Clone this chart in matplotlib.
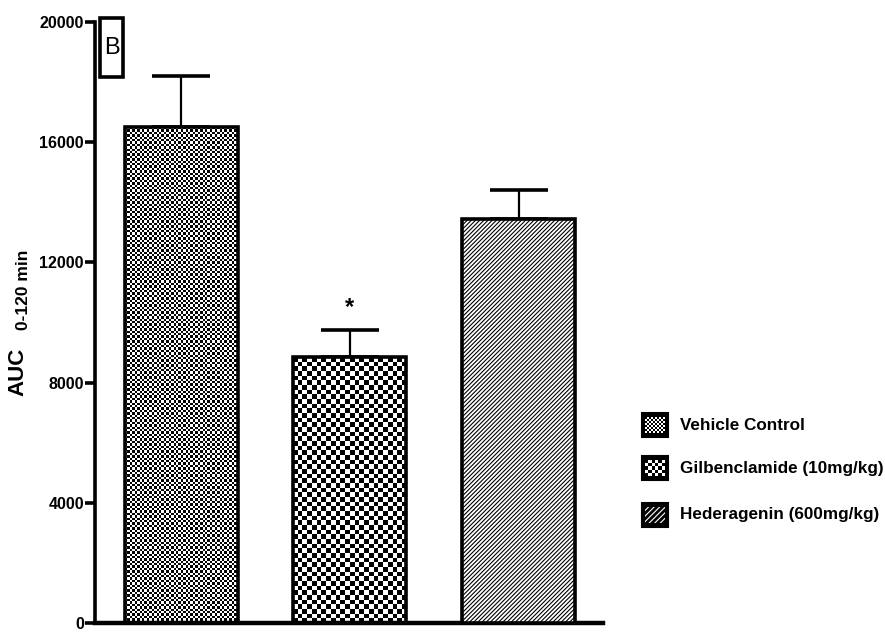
import numpy as np
import matplotlib.pyplot as plt
from matplotlib.patches import Rectangle

groups = ['Vehicle Control', 'Gilbenclamide (10mg/kg)', 'Hederagenin (600mg/kg)']
auc_mean = [16500, 8850, 13450]
auc_sem = [1700, 900, 950]
y_ticks = [0, 4000, 8000, 12000, 16000, 20000]
signif = ['', '*', '']

sans = ['Liberation Sans', 'DejaVu Sans']
plt.rcParams['hatch.linewidth'] = 0.8

W, H = 885, 634
fig = plt.figure(figsize=(W / 100, H / 100), dpi=100)
ax = fig.add_axes([95 / W, 11 / H, 508 / W, 601 / H])

xlim = (-0.51, 2.5)
ylim = (0, 20000)
px_x = 508 / (xlim[1] - xlim[0])
px_y = 601 / (ylim[1] - ylim[0])

x = np.arange(len(groups))
bar_w = 0.67


def checker(cell_px, w_px, h_px):
    nx = max(int(round(w_px / cell_px)), 1)
    ny = max(int(round(h_px / cell_px)), 1)
    return np.add.outer(np.arange(ny), np.arange(nx)) % 2


# upper error bars sit behind the bars
ax.errorbar(x, auc_mean, yerr=[[0] * len(x), auc_sem], fmt='none', ecolor='black',
            elinewidth=1.6, capsize=21, capthick=2.6, zorder=1)

fills = [('checker', 2.4), ('checker', 4.7), ('hatch', '////////')]
for i, (m, (kind, opt)) in enumerate(zip(auc_mean, fills)):
    x0 = x[i] - bar_w / 2
    if kind == 'hatch':
        bar = ax.bar(x[i], m, width=bar_w, facecolor='white', edgecolor='black',
                     linewidth=2.6, hatch=opt, zorder=3)[0]
    else:
        bar = ax.bar(x[i], m, width=bar_w, facecolor='none', edgecolor='black',
                     linewidth=2.6, zorder=3)[0]
        pat = checker(opt, bar_w * px_x, m * px_y)
        ax.imshow(pat, cmap='gray', vmin=0, vmax=1, extent=(x0, x0 + bar_w, 0, m),
                  aspect='auto', interpolation='nearest', clip_path=bar, zorder=2)
    if signif[i]:
        ax.text(x[i], m + auc_sem[i] + 350, signif[i], ha='center', va='bottom',
                fontsize=17, fontweight='bold', family=sans)

ax.set_xlim(*xlim)
ax.set_ylim(*ylim)
ax.set_xticks([])
ax.set_yticks(y_ticks)
ax.set_yticklabels([str(t) for t in y_ticks], family=sans, fontweight='bold', fontsize=11.5)
ax.tick_params(axis='y', length=7, width=2.6, pad=1)
for s in ['top', 'right']:
    ax.spines[s].set_visible(False)
ax.spines['left'].set_linewidth(2.6)
ax.spines['bottom'].set_linewidth(3.2)

# overlay in pixel coordinates for label, panel letter and legend
lay = fig.add_axes([0, 0, 1, 1], facecolor='none')
lay.set_xlim(0, W)
lay.set_ylim(H, 0)
lay.axis('off')

lay.text(18, 372, 'AUC', rotation=90, ha='center', va='center', fontsize=16,
         fontweight='bold', family=sans)
lay.text(24, 290, '0-120 min', rotation=90, ha='center', va='center', fontsize=12.5,
         fontweight='bold', family=sans)

lay.add_patch(Rectangle((100, 18), 23, 59, facecolor='white', edgecolor='black', linewidth=2.6))
lay.text(111.5, 48, 'B', ha='center', va='center', fontsize=17, family=sans)

leg_y = [425, 468, 515]
leg_fill = [('checker', 2.0), ('checker', 3.3), ('hatch', '//////')]
for yc, label, (kind, opt) in zip(leg_y, groups, leg_fill):
    lay.add_patch(Rectangle((642, yc - 12), 26, 24, facecolor='black', edgecolor='black',
                            linewidth=1.5, zorder=1))
    if kind == 'hatch':
        lay.add_patch(Rectangle((645, yc - 8), 20, 16, facecolor='black', edgecolor='white',
                                linewidth=0, hatch=opt, zorder=2))
    else:
        pat = checker(opt, 20, 16)
        lay.imshow(pat, cmap='gray', vmin=0, vmax=1, extent=(645, 665, yc + 8, yc - 8),
                   aspect='auto', interpolation='nearest', zorder=2)
    lay.text(680, yc, label, ha='left', va='center', fontsize=12.3, fontweight='bold',
             family=sans)
lay.set_xlim(0, W)
lay.set_ylim(H, 0)

fig.savefig('out.png', dpi=100)
